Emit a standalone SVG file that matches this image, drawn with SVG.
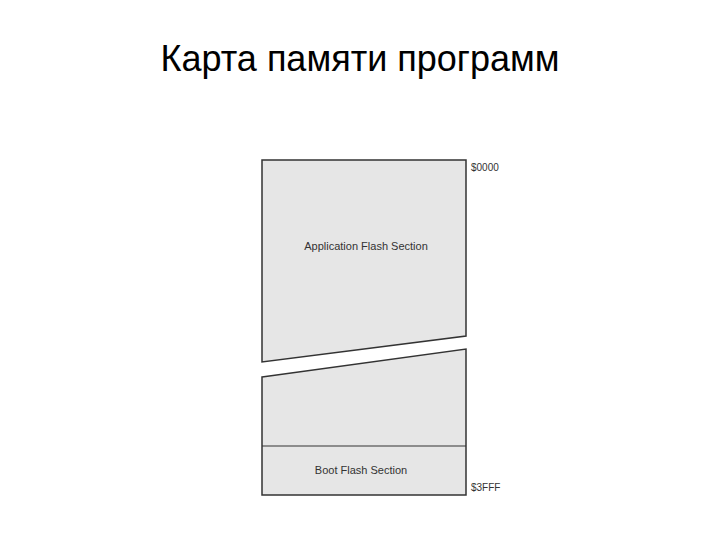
<svg xmlns="http://www.w3.org/2000/svg" width="720" height="540" viewBox="0 0 720 540">
<style>
.sec{fill:#e6e6e6;stroke:#333;stroke-width:1.5;stroke-linejoin:miter}
.lbl{font-family:"Liberation Sans",Arial,sans-serif;font-size:11px;fill:#333}
.addr{font-family:"Liberation Sans",Arial,sans-serif;font-size:10px;fill:#333}
.title{font-family:"Liberation Sans",Arial,sans-serif;font-size:36px;fill:#000}
</style>
<rect width="720" height="540" fill="#fff"/>
<text class="title" x="360" y="71" text-anchor="middle">Карта памяти программ</text>
<g id="app-flash">
<polygon class="sec" points="262,160 466,160 466,336 262,362"/>
<text class="lbl" x="366" y="250" text-anchor="middle">Application Flash Section</text>
</g>
<g id="lower-part">
<polygon class="sec" points="262,377 466,349 466,495 262,495"/>
</g>
<g id="boot-flash">
<line x1="262" y1="446" x2="466" y2="446" stroke="#333" stroke-width="1.2"/>
<text class="lbl" x="361" y="474" text-anchor="middle">Boot Flash Section</text>
</g>
<g id="addresses">
<text class="addr" x="471" y="171">$0000</text>
<text class="addr" x="471" y="491">$3FFF</text>
</g>
</svg>
